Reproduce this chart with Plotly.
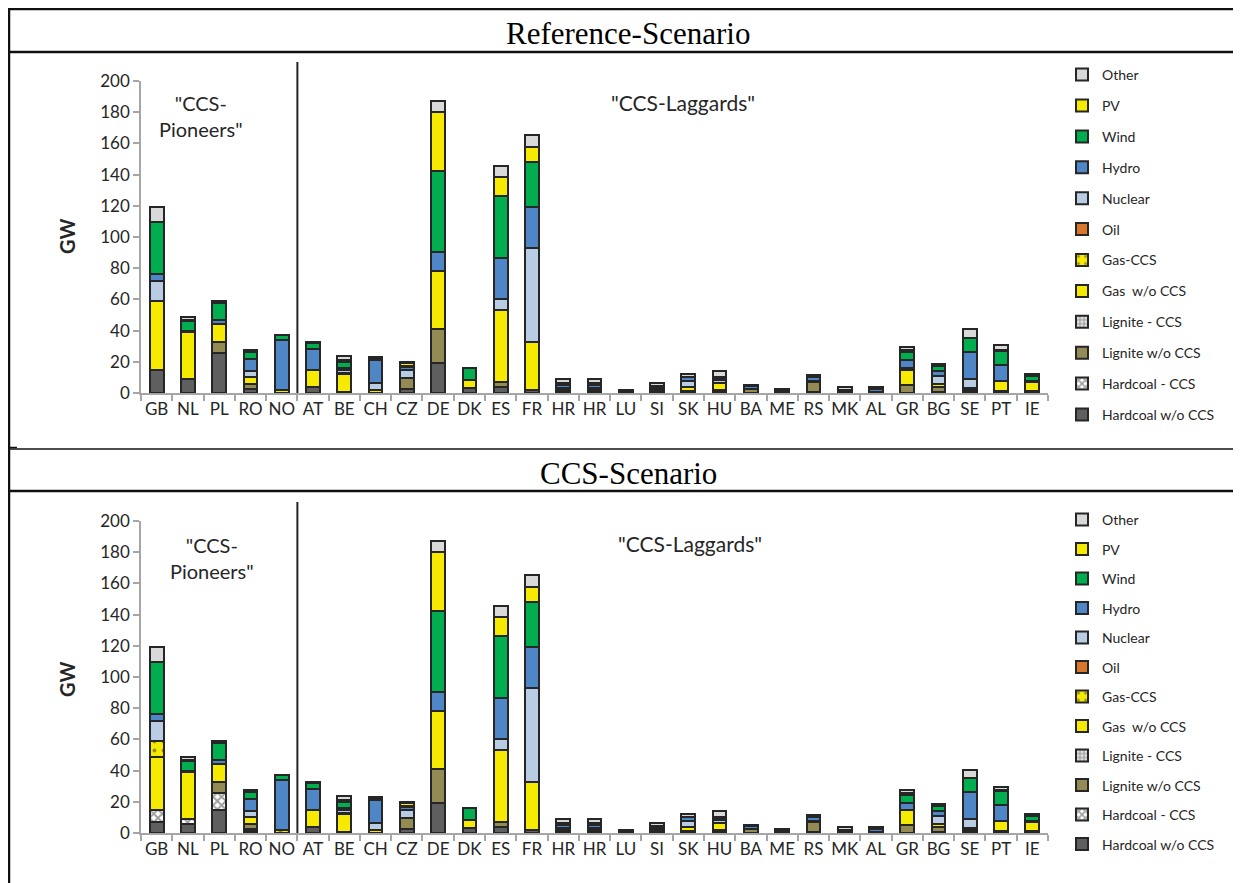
import plotly.graph_objects as go

# The page body has an 8 px margin, so the figure is drawn at (8, 8);
# target pixel positions below are given in screen coordinates.
OFF = 8
W, H = 1241 - OFF, 883 - OFF

countries = ["GB", "NL", "PL", "RO", "NO", "AT", "BE", "CH", "CZ", "DE", "DK", "ES", "FR", "HR", "HR",
             "LU", "SI", "SK", "HU", "BA", "ME", "RS", "MK", "AL", "GR", "BG", "SE", "PT", "IE"]

# ---------------- Reference-Scenario (GW) ----------------
ref_hardcoal     = [15, 9, 25.5, 2.5, 0, 4, 0.6, 0, 2.5, 19, 3, 4, 2, 1, 1, 0, 1, 1, 1, 0.3, 0, 0.5, 0, 0, 0, 0.5, 1.5, 1, 1.5]
ref_hardcoal_ccs = [0] * 29
ref_lignite      = [0, 0, 7, 3, 0, 0, 0, 0, 7, 22, 0, 3, 0, 0, 0, 0, 1, 0.5, 1, 2.5, 0.8, 6.5, 1, 0, 5, 3.5, 1, 0, 0]
ref_lignite_ccs  = [0] * 29
ref_gas          = [44, 30, 12, 4.5, 2, 11, 11.7, 1.7, 0.3, 37, 5.5, 46, 31, 1.5, 1.5, 1, 0.5, 2.5, 4.5, 0, 0, 0.5, 0.5, 0.5, 10, 1.5, 0.5, 7, 5.5]
ref_gas_ccs      = [0] * 29
ref_oil          = [0, 0.5, 0, 0, 0, 0, 0.5, 0, 0, 0, 0, 0, 0, 0.8, 0.8, 0, 0, 0, 0, 0, 0, 0, 0, 0, 1, 0, 0, 0, 0]
ref_nuclear      = [13, 0.5, 0, 4, 0, 0, 1.7, 4.7, 4.7, 0, 0, 7.5, 60, 0, 0, 0, 0.7, 3.5, 2, 0, 0, 0, 0, 0, 0, 5.5, 6, 0, 0]
ref_hydro        = [4.5, 0, 2, 7.5, 32, 13, 1.5, 15, 2, 12.5, 0, 26, 26, 2, 2, 0.3, 1.2, 2.5, 0.5, 1.5, 1, 2.5, 0.6, 1.8, 5, 3, 17, 10, 0.5]
ref_wind         = [33, 6, 11, 5, 3, 4, 3.6, 0.2, 0.5, 52, 7.5, 40, 29, 1.2, 1.2, 0.2, 0, 0.2, 0.5, 0, 0, 0, 0, 0, 5.5, 3, 9, 9, 3.5]
ref_pv           = [0, 1, 0, 0, 0, 0, 1.7, 0, 2, 37.5, 0, 12, 9.5, 0, 0, 0.2, 0.3, 0.3, 0.5, 0, 0, 0, 0, 0, 1.3, 0.5, 0, 0.5, 0]
ref_other        = [10, 1.5, 1.5, 0.8, 0.5, 1, 2.4, 1.5, 1, 7.5, 0.3, 7, 8, 2.5, 2.5, 0.5, 1.9, 1.5, 4, 0.7, 0.8, 1.3, 1.5, 1.3, 1.5, 1, 6, 3, 1.2]

# ---------------- CCS-Scenario (GW) ----------------
ccs_hardcoal     = [7, 6, 14.5, 1.5, 0, 4, 0.6, 0, 2.5, 19, 3, 4, 2, 1, 1, 0, 1, 1, 1, 0.3, 0, 0.5, 0, 0, 0, 0.5, 1.5, 1, 1.5]
ccs_hardcoal_ccs = [8, 3, 11, 1, 0, 0, 0, 0, 0, 0, 0, 0, 0, 0, 0, 0, 0, 0, 0, 0, 0, 0, 0, 0, 0, 0, 0, 0, 0]
ccs_lignite      = [0, 0, 7, 3, 0, 0, 0, 0, 7, 22, 0, 3, 0, 0, 0, 0, 1, 0.5, 1, 2.5, 0.8, 6.5, 1, 0, 5, 3.5, 1, 0, 0]
ccs_lignite_ccs  = [0] * 29
ccs_gas          = [34, 30, 12, 4.5, 0, 11, 11.7, 1.7, 0.3, 37, 5.5, 46, 31, 1.5, 1.5, 1, 0.5, 2.5, 4.5, 0, 0, 0.5, 0.5, 0.5, 10, 1.5, 0.5, 7, 5.5]
ccs_gas_ccs      = [10, 0, 0, 0, 2, 0, 0, 0, 0, 0, 0, 0, 0, 0, 0, 0, 0, 0, 0, 0, 0, 0, 0, 0, 0, 0, 0, 0, 0]
ccs_oil          = [0, 0.5, 0, 0, 0, 0, 0.5, 0, 0, 0, 0, 0, 0, 0.8, 0.8, 0, 0, 0, 0, 0, 0, 0, 0, 0, 0, 0, 0, 0, 0]
ccs_nuclear      = [13, 0.5, 0, 4, 0, 0, 1.7, 4.7, 4.7, 0, 0, 7.5, 60, 0, 0, 0, 0.7, 3.5, 2, 0, 0, 0, 0, 0, 0, 5.5, 6, 0, 0]
ccs_hydro        = [4.5, 0, 2, 7.5, 32, 13, 1.5, 15, 2, 12.5, 0, 26, 26, 2, 2, 0.3, 1.2, 2.5, 0.5, 1.5, 1, 2.5, 0.6, 1.8, 4, 3, 17, 10, 0.5]
ccs_wind         = [33, 6, 11, 5, 3, 4, 3.6, 0.2, 0.5, 52, 7.5, 40, 29, 1.2, 1.2, 0.2, 0, 0.2, 0.5, 0, 0, 0, 0, 0, 5.5, 3, 9, 9, 3.5]
ccs_pv           = [0, 1, 0, 0, 0, 0, 1.7, 0, 2, 37.5, 0, 12, 9.5, 0, 0, 0.2, 0.3, 0.3, 0.5, 0, 0, 0, 0, 0, 1.3, 0.5, 0, 0.5, 0]
ccs_other        = [10, 1.5, 1.5, 0.8, 0.5, 1, 2.4, 1.5, 1, 7.5, 0.3, 7, 8, 2.5, 2.5, 0.5, 1.9, 1.5, 4, 0.7, 0.8, 1.3, 1.5, 1.3, 1.5, 1, 5.5, 2.2, 1.2]

tech_names = ["Hardcoal w/o CCS", "Hardcoal - CCS", "Lignite w/o CCS", "Lignite - CCS", "Gas  w/o CCS",
              "Gas-CCS", "Oil", "Nuclear", "Hydro", "Wind", "PV", "Other"]

ref_series = [ref_hardcoal, ref_hardcoal_ccs, ref_lignite, ref_lignite_ccs, ref_gas, ref_gas_ccs,
              ref_oil, ref_nuclear, ref_hydro, ref_wind, ref_pv, ref_other]
ccs_series = [ccs_hardcoal, ccs_hardcoal_ccs, ccs_lignite, ccs_lignite_ccs, ccs_gas, ccs_gas_ccs,
              ccs_oil, ccs_nuclear, ccs_hydro, ccs_wind, ccs_pv, ccs_other]

YEL = "#F6EB00"
styles = [
    dict(color="#5F5F5F"),
    dict(color="#FFFFFF", pattern=dict(shape="x", fgcolor="#404040", bgcolor="#FFFFFF", size=6, solidity=0.55)),
    dict(color="#948A54"),
    dict(color="#E0E0E0", pattern=dict(shape="+", fgcolor="#404040", bgcolor="#E0E0E0", size=5, solidity=0.4)),
    dict(color=YEL),
    dict(color=YEL, pattern=dict(shape=".", fgcolor="#3A3A10", bgcolor=YEL, size=9, solidity=0.15)),
    dict(color="#D9782D"),
    dict(color="#B8CCE4"),
    dict(color="#4F86C6"),
    dict(color="#00AE4F"),
    dict(color=YEL),
    dict(color="#D9D9D9"),
]

x = list(range(len(countries)))
fig = go.Figure()

for panel, series, xa, ya, leg in [("r", ref_series, "x", "y", "legend"), ("c", ccs_series, "x2", "y2", "legend2")]:
    for i, (name, vals, st) in enumerate(zip(tech_names, series, styles)):
        marker = dict(color=st["color"], line=dict(color="#262626", width=2))
        if "pattern" in st:
            marker["pattern"] = st["pattern"]
        fig.add_trace(go.Bar(
            x=x, y=vals, name=name, marker=marker, xaxis=xa, yaxis=ya,
            legend=leg, legendgroup=f"{panel}{i}", legendrank=100 - i, width=0.44,
        ))

def py(p):
    return 1 - (p - OFF) / H

def px(p):
    return (p - OFF) / W

xdom = [px(141), px(1048)]
axis_common = dict(showline=True, linecolor="#A6A6A6", linewidth=1.5,
                   tickfont=dict(family="Lato", size=17, color="#262626"))

xaxis_kw = dict(domain=xdom, range=[-0.5, 28.5], tickmode="array", tickvals=x, ticktext=countries,
                ticks="", ticklen=0, showgrid=False, zeroline=False, fixedrange=True,
                minor=dict(tickmode="array", tickvals=[i - 0.5 for i in range(30)], ticks="outside",
                           ticklen=6, tickcolor="#A6A6A6", tickwidth=1.5, showgrid=False),
                **axis_common)
yaxis_kw = dict(range=[0, 200], tickvals=list(range(0, 201, 20)), ticks="outside", ticklen=6,
                tickcolor="#A6A6A6", tickwidth=1.5, showgrid=False, zeroline=False, **axis_common)

fig.update_layout(
    width=W, height=H, barmode="stack", plot_bgcolor="white", paper_bgcolor="white",
    margin=dict(l=0, r=0, t=0, b=0, autoexpand=False), showlegend=True,
    xaxis=dict(anchor="y", **xaxis_kw),
    yaxis=dict(domain=[py(393), py(81)], anchor="x", **yaxis_kw),
    xaxis2=dict(anchor="y2", **xaxis_kw),
    yaxis2=dict(domain=[py(833), py(521)], anchor="x2", **yaxis_kw),
    legend=dict(x=px(1062), y=py(59), xanchor="left", yanchor="top", traceorder="grouped",
                tracegroupgap=9.7, font=dict(family="Lato", size=14, color="#262626"), bgcolor="rgba(0,0,0,0)"),
    legend2=dict(x=px(1062), y=py(504), xanchor="left", yanchor="top", traceorder="grouped",
                 tracegroupgap=8.3, font=dict(family="Lato", size=14, color="#262626"), bgcolor="rgba(0,0,0,0)"),
)

# Frame lines
shapes = []
for yy, w in [(9, 2.5), (52, 2.5), (449, 1.5), (491, 2.5)]:
    shapes.append(dict(type="line", xref="paper", yref="paper", x0=px(8), x1=1, y0=py(yy), y1=py(yy),
                       line=dict(color="#111111", width=w)))
shapes.append(dict(type="line", xref="paper", yref="paper", x0=px(9), x1=px(9), y0=py(8), y1=0,
                   line=dict(color="#111111", width=2.5)))
shapes.append(dict(type="line", xref="paper", yref="paper", x0=px(9), x1=px(17), y0=py(447.5), y1=py(447.5),
                   line=dict(color="#111111", width=1.5)))
# divider between pioneers and laggards
shapes.append(dict(type="line", xref="x", yref="paper", x0=4.5, x1=4.5, y0=py(393), y1=py(62),
                   line=dict(color="#262626", width=2)))
shapes.append(dict(type="line", xref="x2", yref="paper", x0=4.5, x1=4.5, y0=py(833), y1=py(502),
                   line=dict(color="#262626", width=2)))

ann = []
def add_text(text, xpx, ypx, size, family="Lato", angle=0, bold=False):
    ann.append(dict(text=f"<b>{text}</b>" if bold else text, x=px(xpx), y=py(ypx), xref="paper", yref="paper",
                    showarrow=False, xanchor="center", yanchor="middle", textangle=angle,
                    font=dict(family=family, size=size, color="#000000" if family != "Lato" else "#262626")))

add_text("Reference-Scenario", 628, 33, 31, family="Liberation Serif")
add_text("CCS-Scenario", 628, 473, 31, family="Liberation Serif")
add_text('"CCS-<br>Pioneers"', 201, 116, 20)
add_text('"CCS-<br>Pioneers"', 212, 558, 20)
add_text('"CCS-Laggards"', 683, 102, 21)
add_text('"CCS-Laggards"', 690, 543, 21)
add_text("GW", 67, 237, 20, angle=-90, bold=True)
add_text("GW", 67, 680, 20, angle=-90, bold=True)

fig.update_layout(shapes=shapes, annotations=ann)
fig.write_html("out.html")
